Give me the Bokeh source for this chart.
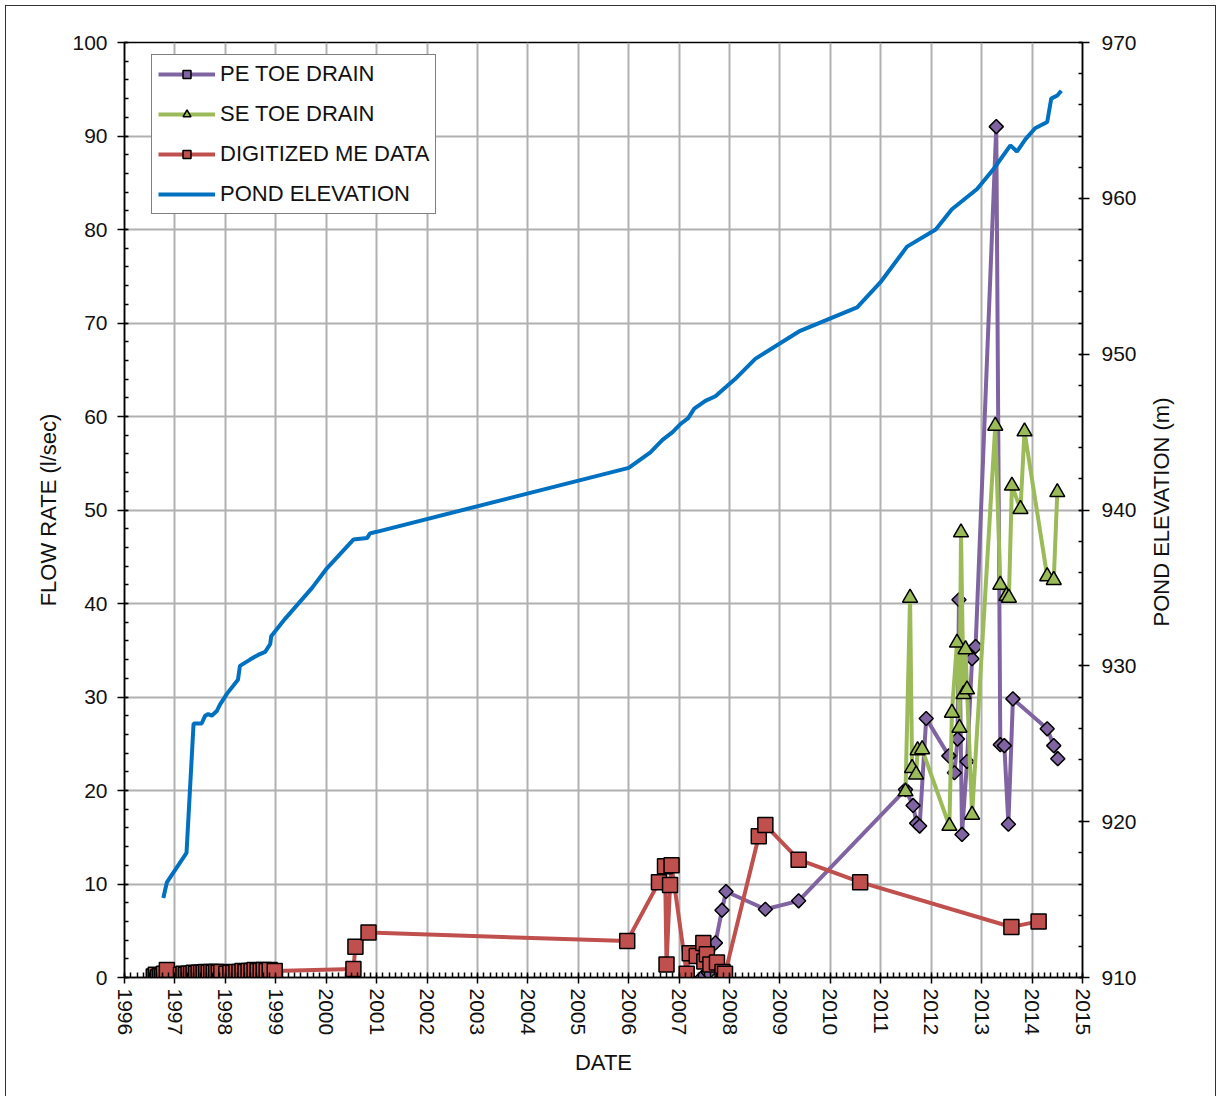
import math
from bokeh.plotting import figure
from bokeh.models import Range1d, LinearAxis, FixedTicker, Legend, LegendItem, Label
from bokeh.embed import file_html
from bokeh.resources import INLINE

# ---------------- data (decimal years) ----------------
pe_dates = [2007.45, 2007.58, 2007.72, 2007.85, 2007.93, 2008.71, 2009.37,
            2011.49, 2011.64, 2011.71, 2011.77, 2011.90, 2012.35, 2012.46,
            2012.52, 2012.55, 2012.61, 2012.71, 2012.81, 2012.88, 2013.29,
            2013.37, 2013.45, 2013.53, 2013.62, 2014.30, 2014.43, 2014.51]
pe_flow = [0.0, 0.5, 3.7, 7.2, 9.2, 7.3, 8.2,
           20.1, 18.4, 16.5, 16.2, 27.7, 23.7, 21.9,
           25.5, 40.4, 15.3, 23.1, 34.1, 35.4, 91.0,
           24.9, 24.8, 16.4, 29.8, 26.6, 24.8, 23.4]

se_dates = [2011.49, 2011.58, 2011.62, 2011.70, 2011.73, 2011.82, 2012.36,
            2012.41, 2012.51, 2012.56, 2012.59, 2012.64, 2012.68, 2012.71,
            2012.81, 2013.27, 2013.37, 2013.49, 2013.54, 2013.60, 2013.77,
            2013.85, 2014.30, 2014.43, 2014.50]
se_flow = [19.9, 40.6, 22.4, 21.7, 24.3, 24.4, 16.2,
           28.3, 35.8, 26.7, 47.6, 30.3, 35.1, 30.8,
           17.4, 59.0, 42.0, 40.8, 40.6, 52.6, 50.1,
           58.4, 42.9, 42.5, 51.9]

me_dates = [1996.58, 1996.62, 1996.66, 1996.70, 1996.74, 1996.78, 1996.84,
            1997.12, 1997.17, 1997.22, 1997.27, 1997.32, 1997.37, 1997.42, 1997.47,
            1997.52, 1997.57, 1997.62, 1997.67, 1997.72, 1997.77, 1997.82, 1997.87,
            1997.92,
            1998.02, 1998.10, 1998.16, 1998.22, 1998.28, 1998.34, 1998.40, 1998.46,
            1998.52, 1998.58, 1998.64, 1998.70, 1998.76, 1998.82, 1998.88, 1998.98,
            2000.54, 2000.58, 2000.84,
            2005.97, 2006.60, 2006.72, 2006.75, 2006.82, 2006.85,
            2007.15, 2007.21, 2007.35, 2007.48, 2007.50, 2007.55, 2007.62, 2007.75,
            2007.86, 2007.91,
            2008.58, 2008.71, 2009.37, 2010.59, 2013.59, 2014.13]
me_flow = [0.1, 0.3, 0.0, 0.2, 0.1, 0.4, 0.8,
           0.3, 0.4, 0.3, 0.4, 0.4, 0.5, 0.4, 0.5,
           0.5, 0.5, 0.6, 0.5, 0.6, 0.5, 0.6, 0.5,
           0.6,
           0.4, 0.5, 0.5, 0.6, 0.6, 0.7, 0.6, 0.7,
           0.7, 0.8, 0.7, 0.7, 0.8, 0.7, 0.8, 0.7,
           0.9, 3.3, 4.8,
           3.9, 10.2, 11.9, 1.4, 9.9, 12.0,
           0.4, 2.6, 2.3, 3.7, 1.7, 2.5, 1.4, 1.6,
           0.6, 0.4,
           15.1, 16.3, 12.6, 10.2, 5.4, 6.0]

pond_dates = [1996.77, 1996.84, 1997.23, 1997.37, 1997.53, 1997.60, 1997.66, 1997.73,
              1997.83, 1997.89, 1998.03, 1998.25, 1998.29, 1998.49, 1998.65, 1998.79,
              1998.89, 1998.91, 1999.18, 1999.72, 2000.00, 2000.54, 2000.81, 2000.87,
              2001.00, 2006.00, 2006.43, 2006.55, 2006.67, 2006.87, 2007.02, 2007.18,
              2007.30, 2007.52, 2007.72, 2007.86, 2008.11, 2008.51, 2009.40, 2010.53,
              2010.99, 2011.52, 2012.09, 2012.41, 2012.91, 2013.24, 2013.57, 2013.70,
              2013.87, 2014.06, 2014.30, 2014.38, 2014.50, 2014.58]
pond_elev = [915.1, 916.1, 918.0, 926.3, 926.3, 926.8, 926.9, 926.8,
             927.1, 927.5, 928.2, 929.1, 930.0, 930.4, 930.7, 930.9,
             931.4, 931.9, 933.0, 935.0, 936.2, 938.1, 938.2, 938.5,
             938.6, 942.7, 943.7, 944.1, 944.5, 945.0, 945.5, 945.9,
             946.5, 947.0, 947.3, 947.7, 948.4, 949.7, 951.5, 953.0,
             954.6, 956.9, 958.0, 959.3, 960.6, 961.9, 963.4, 963.0,
             963.8, 964.5, 964.9, 966.4, 966.6, 966.9]

year_ticks = list(range(1996, 2016))
flow_ticks = list(range(0, 101, 10))
elev_ticks = list(range(910, 971, 10))

series_labels = ["PE TOE DRAIN", "SE TOE DRAIN", "DIGITIZED ME DATA", "POND ELEVATION"]
right_title = "POND ELEVATION (m)"

# ---------------- style ----------------
PURPLE = "#8064A2"
GREEN = "#9BBB59"
RED = "#C0504D"
BLUE = "#0070C0"
GRID = "#b0b0b0"
FONT = "Liberation Sans"
TICK_FS = "21px"
TITLE_FS = "22px"

p = figure(frame_width=958, frame_height=935,
           x_range=Range1d(1996, 2015), y_range=Range1d(0, 100),
           output_backend="svg", toolbar_location=None,
           min_border_left=118, min_border_right=133,
           min_border_top=36, min_border_bottom=119,
           background_fill_color="white", border_fill_color="white")
p.styles = {"border-top": "1.5px solid #333", "border-left": "1.5px solid #333",
            "border-right": "1.5px solid #333", "margin-left": "5px", "margin-top": "5px"}
p.outline_line_color = "black"
p.outline_line_width = 1.5
p.extra_y_ranges = {"elev": Range1d(910, 970)}

minor_years = [1996 + i / 8 for i in range(0, 19 * 8 + 1)]
p.xaxis.ticker = FixedTicker(ticks=year_ticks, minor_ticks=minor_years)
p.xaxis.major_label_overrides = {y: str(y) for y in year_ticks}
p.yaxis.ticker = FixedTicker(ticks=flow_ticks, minor_ticks=list(range(0, 101, 2)))
p.xgrid.ticker = FixedTicker(ticks=year_ticks)
p.ygrid.ticker = FixedTicker(ticks=flow_ticks)
for g in (p.xgrid, p.ygrid):
    g.grid_line_color = GRID
    g.grid_line_width = 2

right = LinearAxis(y_range_name="elev",
                   ticker=FixedTicker(ticks=elev_ticks, minor_ticks=list(range(910, 971, 2))))
p.add_layout(right, "right")

for ax in (p.xaxis[0], p.yaxis[0], right):
    ax.axis_line_color = "black"
    ax.axis_line_width = 1.5
    ax.major_tick_line_color = "black"
    ax.major_tick_line_width = 1.5
    ax.minor_tick_line_color = "black"
    ax.minor_tick_line_width = 1.5
    ax.major_tick_out = 7
    ax.major_tick_in = 3
    ax.minor_tick_out = 0
    ax.minor_tick_in = 4
    ax.major_label_text_font = FONT
    ax.major_label_text_font_size = TICK_FS
    ax.major_label_text_color = "#111111"
    ax.axis_label_text_font = FONT
    ax.axis_label_text_font_size = TITLE_FS
    ax.axis_label_text_font_style = "normal"
    ax.axis_label_text_color = "#111111"

xa = p.xaxis[0]
xa.major_label_orientation = -math.pi / 2
xa.major_label_standoff = 5
xa.axis_label = "DATE"
xa.axis_label_standoff = 12
xa.major_tick_out = 6
xa.minor_tick_in = 5

ya = p.yaxis[0]
ya.axis_label = "FLOW RATE (l/sec)"
ya.major_label_standoff = 10
ya.axis_label_standoff = 8

right.major_label_standoff = 12

# right-hand title, reading bottom-to-top, placed in canvas pixels in the right panel
p.add_layout(Label(x=1153.5, y=504.5, x_units="canvas", y_units="canvas",
                   text=right_title, angle=math.pi / 2,
                   text_align="center", text_baseline="middle",
                   text_font=FONT, text_font_size=TITLE_FS, text_color="#111111"),
             "right")

# ---------------- glyphs ----------------
pe_line = p.line(pe_dates, pe_flow, line_color=PURPLE, line_width=4)
pe_pts = p.scatter(pe_dates, pe_flow, marker="square", angle=math.pi / 4, size=10,
                   fill_color=PURPLE, line_color="black", line_width=1.5)
se_line = p.line(se_dates, se_flow, line_color=GREEN, line_width=4)
se_pts = p.scatter(se_dates, se_flow, marker="triangle", size=15,
                   fill_color=GREEN, line_color="black", line_width=1.5)
me_line = p.line(me_dates, me_flow, line_color=RED, line_width=4)
me_pts = p.scatter(me_dates, me_flow, marker="square", size=15,
                   fill_color=RED, line_color="black", line_width=1.5)
pond_line = p.line(pond_dates, pond_elev, line_color=BLUE, line_width=4,
                   y_range_name="elev")

legend = Legend(items=[
    LegendItem(label=series_labels[0], renderers=[pe_line, pe_pts]),
    LegendItem(label=series_labels[1], renderers=[se_line, se_pts]),
    LegendItem(label=series_labels[2], renderers=[me_line, me_pts]),
    LegendItem(label=series_labels[3], renderers=[pond_line]),
], location=(27, 763))
legend.border_line_color = "black"
legend.border_line_width = 1.5
legend.background_fill_color = "white"
legend.background_fill_alpha = 1
legend.label_text_font = FONT
legend.label_text_font_size = TITLE_FS
legend.label_text_color = "#111111"
legend.glyph_width = 57
legend.glyph_height = 20
legend.label_height = 20
legend.label_standoff = 5
legend.spacing = 14
legend.padding = 6
legend.margin = 0
p.add_layout(legend)

open("out.html", "w").write(file_html(p, INLINE))
